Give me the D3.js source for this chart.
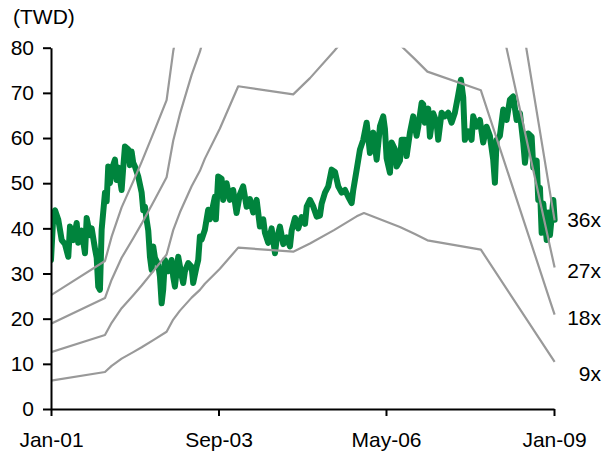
<!DOCTYPE html>
<html>
<head>
<meta charset="utf-8">
<script src="https://cdn.jsdelivr.net/npm/d3@7"></script>
<style>
  html, body { margin: 0; padding: 0; background: #fff; }
  svg { display: block; font-family: "Liberation Sans", Arial, Helvetica, sans-serif; }
</style>
</head>
<body>
<svg id="chart" width="615" height="457"></svg>
<script>
// Share price (TWD), sampled as decimal years
const priceYears = [
  2001.000, 2001.030, 2001.064, 2001.116, 2001.143, 2001.170, 2001.223, 2001.275, 2001.302, 2001.355,
  2001.409, 2001.434, 2001.488, 2001.541, 2001.568, 2001.620, 2001.647, 2001.700, 2001.727, 2001.752,
  2001.779, 2001.806, 2001.859, 2001.886, 2001.911, 2001.938, 2001.965, 2002.018, 2002.045, 2002.070,
  2002.124, 2002.150, 2002.177, 2002.229, 2002.256, 2002.283, 2002.309, 2002.336, 2002.388, 2002.443,
  2002.468, 2002.495, 2002.522, 2002.548, 2002.575, 2002.602, 2002.627, 2002.654, 2002.707, 2002.734,
  2002.761, 2002.786, 2002.813, 2002.866, 2002.920, 2002.945, 2002.972, 2003.025, 2003.079, 2003.104,
  2003.131, 2003.184, 2003.238, 2003.263, 2003.317, 2003.343, 2003.370, 2003.397, 2003.449, 2003.502,
  2003.529, 2003.556, 2003.608, 2003.624, 2003.661, 2003.715, 2003.740, 2003.794, 2003.847, 2003.899,
  2003.953, 2004.006, 2004.058, 2004.113, 2004.165, 2004.218, 2004.272, 2004.324, 2004.377, 2004.404,
  2004.456, 2004.510, 2004.563, 2004.590, 2004.642, 2004.695, 2004.749, 2004.801, 2004.828, 2004.881,
  2004.933, 2004.987, 2005.040, 2005.067, 2005.119, 2005.172, 2005.226, 2005.278, 2005.305, 2005.358,
  2005.410, 2005.464, 2005.517, 2005.569, 2005.623, 2005.676, 2005.728, 2005.782, 2005.808, 2005.862,
  2005.914, 2005.967, 2006.021, 2006.073, 2006.126, 2006.180, 2006.233, 2006.285, 2006.312, 2006.339,
  2006.392, 2006.419, 2006.471, 2006.498, 2006.551, 2006.578, 2006.630, 2006.657, 2006.710, 2006.762,
  2006.816, 2006.842, 2006.896, 2006.921, 2006.948, 2007.001, 2007.028, 2007.080, 2007.134, 2007.160,
  2007.214, 2007.266, 2007.319, 2007.373, 2007.425, 2007.478, 2007.521, 2007.558, 2007.584, 2007.637,
  2007.691, 2007.717, 2007.771, 2007.823, 2007.876, 2007.930, 2007.982, 2008.035, 2008.062, 2008.089,
  2008.141, 2008.194, 2008.248, 2008.300, 2008.353, 2008.407, 2008.459, 2008.512, 2008.539, 2008.591,
  2008.645, 2008.671, 2008.725, 2008.750, 2008.777, 2008.804, 2008.830, 2008.884, 2008.909, 2008.936,
  2008.989, 2009.010
];
const priceTWD = [
  33.0, 41.0, 44.0, 41.9, 39.7, 37.4, 36.5, 33.7, 40.4, 37.4,
  41.2, 36.8, 39.5, 34.5, 42.3, 38.5, 40.0, 35.5, 33.5, 27.1,
  26.4, 39.7, 47.9, 46.0, 53.7, 50.0, 53.0, 55.2, 50.7, 53.5,
  48.5, 53.5, 58.1, 57.5, 54.0, 57.0, 54.5, 53.7, 51.5, 47.9,
  44.0, 44.8, 41.9, 39.5, 33.7, 30.8, 36.0, 33.5, 32.0, 29.3,
  23.4, 26.5, 33.0, 30.5, 33.0, 29.3, 27.1, 33.7, 29.5, 27.9,
  30.5, 32.3, 31.5, 27.9, 31.5, 33.0, 38.2, 37.5, 39.7, 44.1,
  42.0, 43.5, 47.0, 42.0, 51.5, 51.0, 46.3, 50.0, 46.3, 48.5,
  43.4, 47.5, 49.3, 44.8, 46.5, 43.5, 46.3, 40.4, 42.0, 39.0,
  36.8, 40.0, 34.5, 37.5, 40.4, 36.5, 38.0, 36.0, 39.5, 42.3,
  40.0, 42.5, 41.0, 44.8, 46.3, 44.8, 42.6, 42.8, 45.5, 47.9,
  49.3, 53.0, 52.5, 49.3, 47.9, 48.5, 47.0, 45.6, 48.5, 53.0,
  57.4, 59.6, 63.4, 56.7, 61.2, 55.2, 62.6, 64.8, 62.0, 55.5,
  52.3, 59.0, 57.5, 53.7, 55.0, 59.6, 59.6, 56.0, 61.2, 64.8,
  60.5, 62.5, 67.8, 67.5, 63.4, 66.5, 60.3, 65.5, 63.5, 59.6,
  65.6, 64.8, 65.6, 63.4, 65.6, 69.5, 72.9, 69.0, 59.6, 61.5,
  59.6, 64.8, 62.5, 64.0, 59.0, 62.5, 60.5, 55.2, 50.1, 59.6,
  60.5, 66.3, 64.0, 68.5, 69.2, 64.0, 65.5, 59.0, 54.5, 61.0,
  60.3, 53.5, 55.0, 46.3, 49.0, 39.0, 45.5, 37.4, 43.5, 38.5,
  46.3, 41.9
];

// Trailing EPS (TWD) used for the P/E bands
const epsYears = [
  2001.000, 2001.859, 2001.965, 2002.124, 2002.309, 2002.443, 2002.654, 2002.840, 2002.945, 2003.052,
  2003.238, 2003.370, 2003.449, 2003.688, 2003.980, 2004.853, 2005.119, 2005.501, 2005.862, 2005.978,
  2006.551, 2006.781, 2006.988, 2007.839, 2008.950, 2009.010
];
const epsTWD = [
  0.70, 0.91, 1.06, 1.24, 1.40, 1.52, 1.72, 1.90, 2.20, 2.42,
  2.74, 2.93, 3.08, 3.45, 3.97, 3.87, 4.07, 4.40, 4.74, 4.82,
  4.48, 4.31, 4.15, 3.92, 1.30, 1.16
];

const peMultiples = [9, 18, 27, 36];
const peLabels = ["9x", "18x", "27x", "36x"];

const yTicks = [0, 10, 20, 30, 40, 50, 60, 70, 80];
const xTickDates = ["2001-01-01", "2003-09-01", "2006-05-01", "2009-01-01"];
const yAxisTitle = "(TWD)";

// ---- helpers ----
function yearToDate(t) {
  const yr = Math.floor(t);
  const a = new Date(yr, 0, 1), b = new Date(yr + 1, 0, 1);
  return new Date(+a + (t - yr) * (b - a));
}
const parseDay = d3.timeParse("%Y-%m-%d");

const svg = d3.select("#chart");
const plotLeft = 51, plotRight = 554, plotTop = 47.7, plotBottom = 409;
const fontSize = 21;

const x = d3.scaleTime()
  .domain([new Date(2001, 0, 1), new Date(2009, 0, 1)])
  .range([plotLeft, plotRight]);
const y = d3.scaleLinear().domain([0, 80]).range([plotBottom, plotTop]);

svg.append("defs").append("clipPath").attr("id", "plot")
  .append("rect").attr("x", plotLeft).attr("y", plotTop)
  .attr("width", 620 - plotLeft).attr("height", plotBottom - plotTop);

const priceData = priceYears.map((t, i) => ({ date: yearToDate(t), v: priceTWD[i] }));
const epsData = epsYears.map((t, i) => ({ date: yearToDate(t), eps: epsTWD[i] }));

const plot = svg.append("g").attr("clip-path", "url(#plot)");

// price line
plot.append("path")
  .datum(priceData)
  .attr("fill", "none")
  .attr("stroke", "#00843d")
  .attr("stroke-width", 6)
  .attr("stroke-linejoin", "round")
  .attr("stroke-linecap", "round")
  .attr("d", d3.line().x(d => x(d.date)).y(d => y(d.v)));

// P/E band lines
peMultiples.forEach(m => {
  plot.append("path")
    .datum(epsData)
    .attr("fill", "none")
    .attr("stroke", "#999999")
    .attr("stroke-width", 2.2)
    .attr("stroke-linejoin", "round")
    .attr("d", d3.line().x(d => x(d.date)).y(d => y(d.eps * m)));
});

// band labels at the right end
const labelNudge = [19, 10, 10, 7];
const lastEps = epsTWD[epsTWD.length - 1];
peMultiples.forEach((m, i) => {
  svg.append("text")
    .attr("x", 601)
    .attr("y", y(lastEps * m) + labelNudge[i])
    .attr("text-anchor", "end")
    .attr("font-size", fontSize)
    .attr("fill", "#000")
    .text(peLabels[i]);
});

// axes
const yAxis = svg.append("g")
  .attr("transform", `translate(${plotLeft},0)`)
  .call(d3.axisLeft(y).tickValues(yTicks).tickSize(8).tickSizeOuter(0).tickPadding(9));
const xAxis = svg.append("g")
  .attr("transform", `translate(0,${plotBottom})`)
  .call(d3.axisBottom(x).tickValues(xTickDates.map(parseDay)).tickSize(7).tickSizeOuter(0)
    .tickPadding(16).tickFormat(d3.timeFormat("%b-%y")));

[yAxis, xAxis].forEach(g => {
  g.selectAll("path.domain").attr("stroke", "#000").attr("stroke-width", 2);
  g.selectAll(".tick line").attr("stroke", "#000").attr("stroke-width", 2);
  g.selectAll(".tick text").attr("font-size", fontSize).attr("fill", "#000")
    .attr("font-family", "'Liberation Sans', Arial, sans-serif");
});

svg.append("text")
  .attr("x", 13).attr("y", 24)
  .attr("font-size", fontSize).attr("fill", "#000")
  .text(yAxisTitle);
</script>
</body>
</html>
